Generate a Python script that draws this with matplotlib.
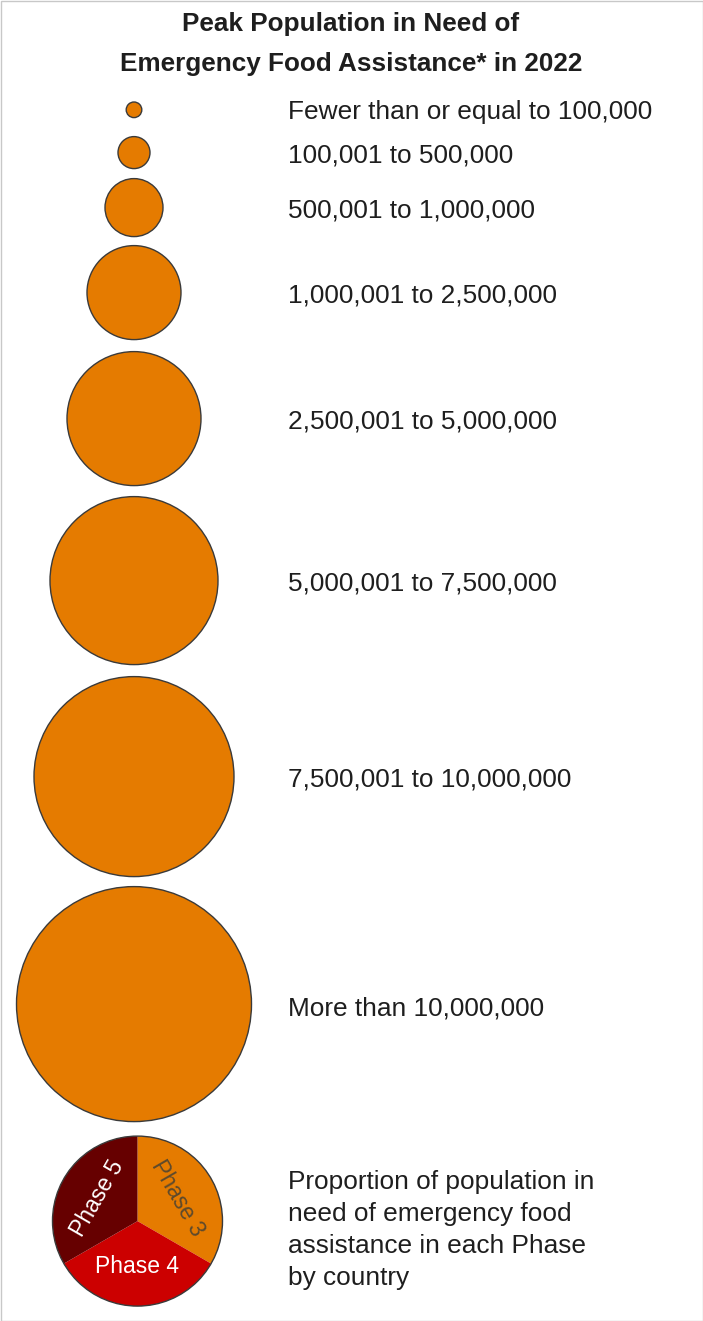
import matplotlib
matplotlib.use('Agg')
import matplotlib.pyplot as plt
from matplotlib.patches import Circle, Rectangle

plt.rcParams['font.family'] = ['Liberation Sans', 'DejaVu Sans']

# canvas size in pixels
W, H = 703, 1321

title_lines = ['Peak Population in Need of', 'Emergency Food Assistance* in 2022']

size_labels = [
    'Fewer than or equal to 100,000',
    '100,001 to 500,000',
    '500,001 to 1,000,000',
    '1,000,001 to 2,500,000',
    '2,500,001 to 5,000,000',
    '5,000,001 to 7,500,000',
    '7,500,001 to 10,000,000',
    'More than 10,000,000',
]
# legend circle radii (px)
radii = [7.8, 16, 29, 47, 67, 84, 100, 117.5]

phase_names = ['Phase 3', 'Phase 4', 'Phase 5']
phase_share = [1, 1, 1]
phase_colors = ['#E57B00', '#CC0000', '#660000']
phase_text = ['#5e4a2c', 'white', 'white']
phase_rot = [-60, 0, 60]

pie_note = ('Proportion of population in\nneed of emergency food\n'
            'assistance in each Phase\nby country')

orange = '#E57B00'
edge = '#3a3a3a'
txt = '#1e1e1e'

fig = plt.figure(figsize=(W / 100, H / 100), dpi=100)
ax = fig.add_axes([0, 0, 1, 1])

# title
ax.text(351, H - 24, title_lines[0], ha='center', va='center',
        fontsize=18.8, fontweight='bold', color=txt)
ax.text(351, H - 64, title_lines[1], ha='center', va='center',
        fontsize=18.8, fontweight='bold', color=txt)

# stacked size circles, top-down (spacing between rows as in the picture)
cx = 134
label_x = 288
gaps = [19, 10, 9, 12, 11, 12, 10, 14.5]
y = 102
for i, (r, lab, g) in enumerate(zip(radii, size_labels, gaps)):
    yc = y + r
    ax.add_patch(Circle((cx, H - yc), r, facecolor=orange,
                        edgecolor=edge, linewidth=1.0))
    shift = 4 if i == len(radii) - 1 else 2.5
    ax.text(label_x, H - yc - shift, lab, ha='left', va='center',
            fontsize=18.9, color=txt)
    y += 2 * r + g

# phase pie
pr = 85
pcx = 137.5
pcy = y + pr
wedges, texts = ax.pie(phase_share, colors=phase_colors, labels=phase_names,
                       startangle=90, counterclock=False,
                       center=(pcx, H - pcy), radius=pr, labeldistance=0.54,
                       wedgeprops=dict(linewidth=0),
                       textprops=dict(fontsize=16.5, ha='center', va='center'))
for t, c, rot in zip(texts, phase_text, phase_rot):
    t.set_color(c)
    t.set_rotation(rot)
ax.add_patch(Circle((pcx, H - pcy), pr, facecolor='none',
                    edgecolor=edge, linewidth=1.0))

ax.text(label_x, H - pcy - 9, pie_note, ha='left', va='center',
        fontsize=18.9, color=txt, linespacing=1.42)

# thin frame round the picture
ax.add_patch(Rectangle((0.5, 0.5), W - 1, H - 1, facecolor='none',
                       edgecolor='#c8c8c8', linewidth=1.0))

ax.set_xlim(0, W)
ax.set_ylim(0, H)
ax.set_aspect('auto')
ax.axis('off')

fig.savefig('out.png', dpi=100)
